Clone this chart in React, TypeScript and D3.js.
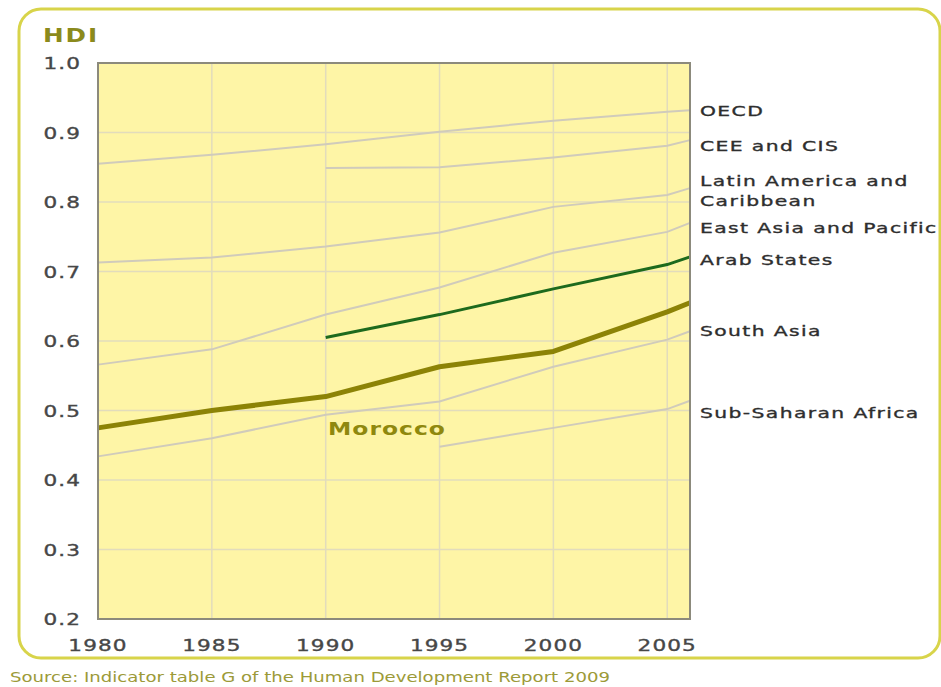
import * as d3 from 'd3';

// HDI trends
const years = [1980, 1985, 1990, 1995, 2000, 2005, 2006];

const oecd = [0.855, 0.868, 0.883, 0.901, 0.917, 0.93, 0.932];
const ceeCis = [null, null, 0.849, 0.85, 0.864, 0.881, 0.889];
const latinAmerica = [0.713, 0.72, 0.736, 0.756, 0.793, 0.81, 0.82];
const eastAsia = [0.566, 0.588, 0.638, 0.677, 0.727, 0.757, 0.77];
const arabStates = [null, null, 0.605, 0.638, 0.675, 0.71, 0.721];
const southAsia = [0.434, 0.46, 0.494, 0.513, 0.563, 0.602, 0.614];
const subSaharan = [null, null, null, 0.448, 0.475, 0.502, 0.514];
const morocco = [0.475, 0.5, 0.52, 0.563, 0.585, 0.642, 0.655];

const regionSeries = [oecd, ceeCis, latinAmerica, eastAsia, southAsia, subSaharan];

// label text and the HDI level each label sits at on the right
const regionLabels = [
  ['OECD'],
  ['CEE and CIS'],
  ['Latin America and', 'Caribbean'],
  ['East Asia and Pacific'],
  ['Arab States'],
  ['South Asia'],
  ['Sub-Saharan Africa'],
];
const regionLabelLevels = [0.931, 0.881, 0.816, 0.763, 0.717, 0.615, 0.496];

const xTicks = [1980, 1985, 1990, 1995, 2000, 2005];
const yTicks = [0.2, 0.3, 0.4, 0.5, 0.6, 0.7, 0.8, 0.9, 1.0];

const W = 941;
const H = 687;
const margin = { top: 63, right: 251, bottom: 68, left: 98 };

const FONT = '"DejaVu Sans", Verdana, sans-serif';

// the reference text is stretched sideways, so scale glyphs horizontally
function Wide({ x, y, size, sx = 1.35, ls = 1, anchor = 'start', weight = 'normal', fill = '#444', sw = 0.35, children }: any) {
  return (
    <text
      transform={`translate(${x},${y}) scale(${sx},1)`}
      fontFamily={FONT}
      fontSize={size}
      fontWeight={weight}
      letterSpacing={ls}
      textAnchor={anchor}
      fill={fill}
      stroke={fill}
      strokeWidth={sw}
    >
      {children}
    </text>
  );
}

export default function App() {
  const x = d3
    .scaleLinear()
    .domain([1980, 2006])
    .range([margin.left, W - margin.right]);
  const y = d3
    .scaleLinear()
    .domain([0.2, 1.0])
    .range([H - margin.bottom, margin.top]);

  const line = d3
    .line<number | null>()
    .defined((d) => d != null)
    .x((_, i) => x(years[i]))
    .y((d) => y(d as number));

  const [x0, x1] = x.range();
  const [yb, yt] = y.range();

  return (
    <svg
      width={W}
      height={H}
      style={{ position: 'absolute', left: 0, top: 0, background: '#fff' }}
    >
      {/* outer frame */}
      <rect x={19} y={9} width={921} height={649} rx={22} fill="#fff" stroke="#d8d44a" strokeWidth={3} />

      <Wide x={43} y={42} size={19} weight="bold" fill="#8b8a1c" sx={1.3} ls={1.5} sw={0}>
        HDI
      </Wide>

      {/* plot background */}
      <rect x={x0} y={yt} width={x1 - x0} height={yb - yt} fill="#fef5a6" />

      {/* grid */}
      {xTicks.slice(1).map((t) => (
        <line key={'gx' + t} x1={x(t)} x2={x(t)} y1={yt} y2={yb} stroke="#e2dcbc" strokeWidth={1.5} />
      ))}
      {yTicks.slice(1, -1).map((t) => (
        <line key={'gy' + t} x1={x0} x2={x1} y1={y(t)} y2={y(t)} stroke="#e2dcbc" strokeWidth={1.5} />
      ))}

      {/* regional lines */}
      {regionSeries.map((s, i) => (
        <path key={'r' + i} d={line(s) ?? ''} fill="none" stroke="#d0cbbb" strokeWidth={2} />
      ))}

      <path d={line(arabStates) ?? ''} fill="none" stroke="#1d6a1d" strokeWidth={3} />
      <path d={line(morocco) ?? ''} fill="none" stroke="#8c8306" strokeWidth={5} strokeLinejoin="round" />

      <Wide x={x(1990.1)} y={y(0.476) + 8} size={18} weight="bold" fill="#8f880e" sx={1.3} ls={0.8} sw={0}>
        Morocco
      </Wide>

      {/* plot border */}
      <rect x={x0} y={yt} width={x1 - x0} height={yb - yt} fill="none" stroke="#8c8a7c" strokeWidth={2} />

      {/* y axis labels */}
      {yTicks.map((t) => (
        <Wide key={'yl' + t} x={81} y={y(t) + 6} size={16} anchor="end" ls={0.8} fill="#474747">
          {t.toFixed(1)}
        </Wide>
      ))}

      {/* x axis labels */}
      {xTicks.map((t) => (
        <Wide key={'xl' + t} x={x(t)} y={651} size={16} anchor="middle" ls={0.8} fill="#474747">
          {t}
        </Wide>
      ))}

      {/* region labels */}
      {regionLabels.map((lines, i) => {
        const cy = y(regionLabelLevels[i]);
        const first = cy - ((lines.length - 1) * 20) / 2;
        return lines.map((txt, j) => (
          <Wide key={'rl' + i + '-' + j} x={700} y={first + j * 20 + 5} size={14.5} sx={1.4} ls={1} fill="#2e2e2e">
            {txt}
          </Wide>
        ));
      })}

      <text
        x={10}
        y={682}
        fontFamily={FONT}
        fontSize={14}
        fill="#9c9a38"
        textLength={600}
        lengthAdjust="spacingAndGlyphs"
      >
        Source: Indicator table G of the Human Development Report 2009
      </text>
    </svg>
  );
}
